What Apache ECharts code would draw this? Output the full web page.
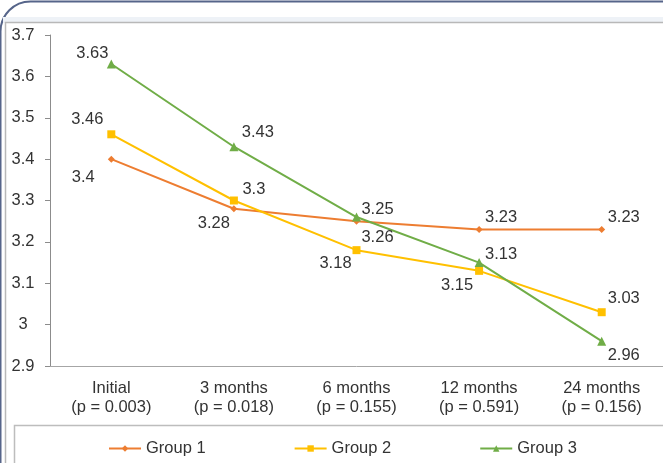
<!DOCTYPE html>
<html>
<head>
<meta charset="utf-8">
<script src="https://cdn.jsdelivr.net/npm/echarts@6/dist/echarts.min.js"></script>
<style>
  html, body { margin: 0; padding: 0; background: #fff; }
  #chart { width: 663px; height: 463px; }
</style>
</head>
<body>
<div id="chart"></div>
<script>
var categories = ['Initial\n(p = 0.003)', '3 months\n(p = 0.018)', '6 months\n(p = 0.155)', '12 months\n(p = 0.591)', '24 months\n(p = 0.156)'];
var group1 = [3.4, 3.28, 3.25, 3.23, 3.23];
var group2 = [3.46, 3.3, 3.18, 3.13, 3.03];
var group3 = [3.63, 3.43, 3.26, 3.15, 2.96];

// where each value label sits, relative to its point (style only)
var offs1 = [[-28, 18], [-20, 15], [21, -12], [22, -12], [22, -12]];
var offs2 = [[-24, -15], [20, -11], [-21, 13], [22, -16], [22, -14]];
var offs3 = [[-19, -11], [24, -14], [21, 20], [-22, 23], [22, 14]];

var font = 'Liberation Sans, Arial, sans-serif';
var fs = 16.5;

function withLabels(vals, offs) {
  return vals.map(function (v, i) {
    return {
      value: v,
      label: { show: true, position: 'inside', offset: offs[i] }
    };
  });
}

function makeSeries(name, vals, offs, color, symbol, size) {
  return {
    name: name,
    type: 'line',
    data: withLabels(vals, offs),
    symbol: symbol,
    symbolSize: size,
    lineStyle: { color: color, width: 2 },
    itemStyle: { color: color },
    label: {
      color: '#333',
      fontFamily: font,
      fontSize: fs,
      align: 'center',
      verticalAlign: 'middle'
    },
    emphasis: { disabled: true },
    animation: false
  };
}

var chart = echarts.init(document.getElementById('chart'));
chart.setOption({
  animation: false,
  graphic: [
    { type: 'rect', z: -10, silent: true,
      shape: { x: 0.5, y: 1.5, width: 700, height: 500, r: [30, 0, 0, 0] },
      style: { fill: '#fff', stroke: '#56658a', lineWidth: 2 } },
    { type: 'rect', z: -9, silent: true,
      shape: { x: 3, y: 17, width: 700, height: 6 },
      style: { fill: '#eef2f7' } },
    { type: 'rect', z: -8, silent: true,
      shape: { x: 5.5, y: 22.5, width: 700, height: 500 },
      style: { fill: '#fff', stroke: '#b8b8b8', lineWidth: 1.5 } },
    { type: 'rect', z: -7, silent: true,
      shape: { x: 14.5, y: 425.5, width: 700, height: 100 },
      style: { fill: '#fff', stroke: '#bdbdbd', lineWidth: 1.5 } }
  ],
  grid: { left: 50, top: 35, width: 617, height: 331 },
  legend: {
    left: 103,
    top: 435,
    itemGap: 88,
    itemWidth: 32,
    itemHeight: 8,
    textStyle: { color: '#333', fontFamily: font, fontSize: fs },
    data: ['Group 1', 'Group 2', 'Group 3']
  },
  xAxis: {
    type: 'category',
    data: categories,
    boundaryGap: true,
    axisLine: { lineStyle: { color: '#a6a6a6', width: 1 } },
    axisTick: { show: false },
    axisLabel: { color: '#333', fontFamily: font, fontSize: fs, lineHeight: 19, margin: 13, interval: 0 },
    splitLine: { show: false }
  },
  yAxis: {
    type: 'value',
    min: 2.9,
    max: 3.7,
    interval: 0.1,
    axisLine: { show: true, lineStyle: { color: '#8c8c8c', width: 1 } },
    axisTick: { show: true, length: 5, lineStyle: { color: '#8c8c8c' } },
    axisLabel: {
      color: '#333', fontFamily: font, fontSize: fs, margin: 27, align: 'center',
      formatter: function (v) { return String(+v.toFixed(1)); }
    },
    splitLine: { show: false }
  },
  series: [
    makeSeries('Group 1', group1, offs1, '#ed7d31', 'diamond', 7),
    makeSeries('Group 2', group2, offs2, '#ffc000', 'rect', 8),
    makeSeries('Group 3', group3, offs3, '#70ad47', 'triangle', 9)
  ]
});
</script>
</body>
</html>
